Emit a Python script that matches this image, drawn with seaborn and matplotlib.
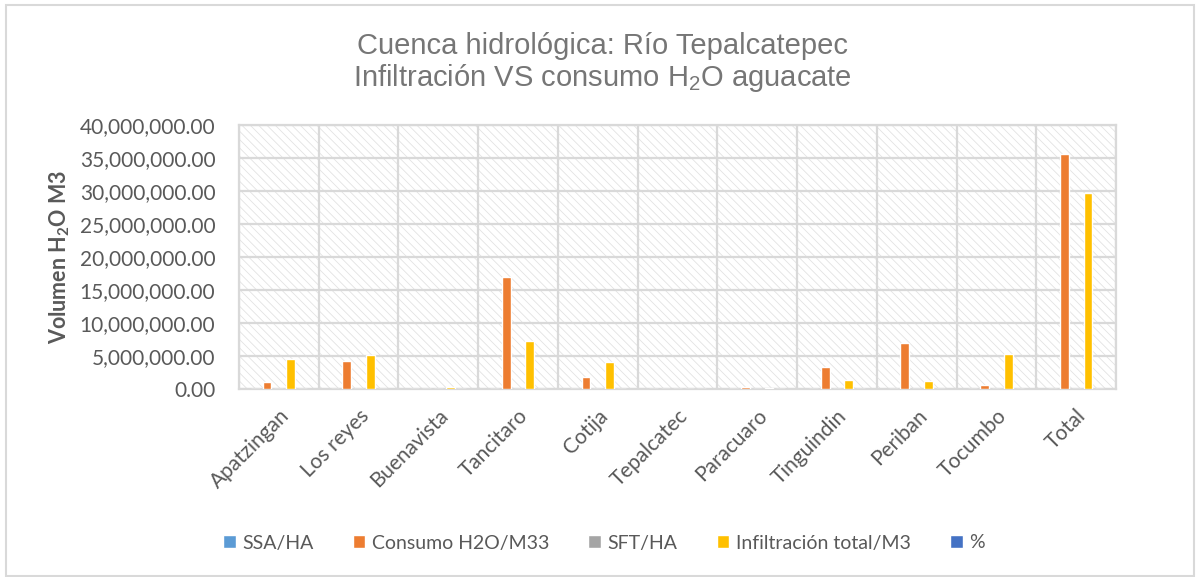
import matplotlib
matplotlib.use("Agg")
import matplotlib.pyplot as plt
from matplotlib.patches import Rectangle
from matplotlib.ticker import FuncFormatter, FixedLocator
import numpy as np
import pandas as pd
import seaborn as sns

# Municipalities of the basin plus the basin total
municipios = ["Apatzingan", "Los reyes", "Buenavista", "Tancitaro", "Cotija",
              "Tepalcatec", "Paracuaro", "Tinguindin", "Periban", "Tocumbo", "Total"]

# Series (m3 for consumption / infiltration, hectares and % for the others)
ssa_ha = [1150, 4300, 30, 16500, 1800, 0, 350, 3200, 6700, 540, 34570]
consumo_h2o = [1100000, 4240000, 30000, 16900000, 1800000, 0, 350000, 3300000, 6900000, 550000, 35600000]
sft_ha = [3100, 3500, 180, 4900, 2800, 0, 100, 950, 820, 3600, 19950]
infiltracion = [4500000, 5150000, 260000, 7200000, 4100000, 0, 150000, 1400000, 1200000, 5300000, 29700000]
porcentaje = [24, 82, 12, 235, 44, 0, 230, 236, 575, 10, 120]

series = ["SSA/HA", "Consumo H2O/M33", "SFT/HA", "Infiltración total/M3", "%"]
colores = ["#5B9BD5", "#ED7D31", "#A5A5A5", "#FFC000", "#4472C4"]

df = pd.concat([
    pd.DataFrame({"municipio": municipios, "serie": s, "valor": v})
    for s, v in zip(series, [ssa_ha, consumo_h2o, sft_ha, infiltracion, porcentaje])
], ignore_index=True)

sns.set_theme(style="white")
plt.rcParams["font.family"] = ["Lato", "DejaVu Sans"]
plt.rcParams["mathtext.default"] = "regular"
plt.rcParams["hatch.linewidth"] = 0.6

fig = plt.figure(figsize=(11.96, 5.77), dpi=100)
ax = fig.add_axes([239 / 1196, 1 - 389 / 577, 877 / 1196, 264 / 577])

# Hatched plot-area background
ax.add_patch(Rectangle((0, 0), 1, 1, transform=ax.transAxes, facecolor="white",
                       edgecolor="#e3e3e3", linewidth=0, hatch="\\" * 4, zorder=0))

sns.barplot(data=df, x="municipio", y="valor", hue="serie", hue_order=series,
            palette=colores, width=0.74, gap=0.25, saturation=1, ax=ax, zorder=3)

ax.set_ylim(0, 40000000)
ax.set_xlim(-0.5, len(municipios) - 0.5)
ax.set_yticks(np.arange(0, 40000001, 5000000))
ax.yaxis.set_major_formatter(FuncFormatter(lambda v, p: f"{v:,.2f}"))
ax.xaxis.set_minor_locator(FixedLocator(np.arange(-0.5, len(municipios), 1.0)))

grid_c = "#d9d9d9"
ax.set_axisbelow(True)
ax.grid(True, axis="y", which="major", color=grid_c, linewidth=1.6)
ax.grid(True, axis="x", which="minor", color=grid_c, linewidth=1.6)
ax.grid(False, axis="x", which="major")
for sp in ax.spines.values():
    sp.set_color(grid_c)
    sp.set_linewidth(1.6)

ax.tick_params(axis="both", which="both", length=0, colors="#595959", labelsize=15)
ax.tick_params(axis="y", pad=17)
plt.setp(ax.get_xticklabels(), rotation=45, ha="right", rotation_mode="anchor")
ax.tick_params(axis="x", pad=12)

ax.set_xlabel("")
ax.set_ylabel("Volumen H$_2$O M3", fontsize=15.5, fontweight="bold", color="#595959")
ax.yaxis.set_label_coords(-0.19, 0.5)

# Title
title_font = ["Liberation Sans", "DejaVu Sans"]
fig.text(0.504, 1 - 54 / 577, "Cuenca hidrológica: Río Tepalcatepec", ha="center",
         va="baseline", fontsize=21, color="#767676", family=title_font)
fig.text(0.504, 1 - 86 / 577, "Infiltración VS consumo H$_2$O aguacate", ha="center",
         va="baseline", fontsize=21, color="#767676", family=title_font)

# Legend at the bottom
handles, labels = ax.get_legend_handles_labels()
ax.get_legend().remove()
fig.legend(handles, labels, loc="center", bbox_to_anchor=(0.505, 1 - 543 / 577), ncol=5,
           frameon=False, fontsize=14, labelcolor="#595959", handlelength=0.65,
           handleheight=0.65, handletextpad=0.35, columnspacing=2.0)

# Chart outer border
fig.add_artist(Rectangle((6 / 1196, 0.002), 1188 / 1196, 1 - 5 / 577 - 0.002,
                         transform=fig.transFigure, fill=False, edgecolor="#d9d9d9",
                         linewidth=1.5))

fig.savefig("out.png", dpi=100)
